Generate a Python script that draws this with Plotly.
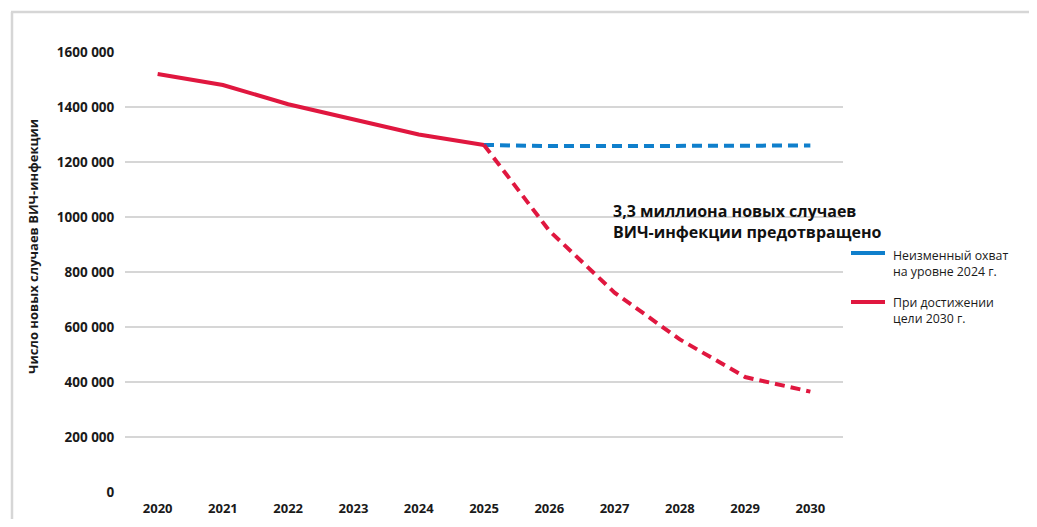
import plotly.graph_objects as go

years = ["2020", "2021", "2022", "2023", "2024", "2025", "2026", "2027", "2028", "2029", "2030"]
history = [1520000, 1480000, 1410000, 1355000, 1300000, 1262000]
history_years = years[:6]
constant_years = years[5:]
constant_coverage = [1262000, 1258000, 1258000, 1258000, 1258000, 1260000]
target_years = years[5:]
target_2030 = [1262000, 950000, 725000, 555000, 418000, 365000]
y_ticks = [0, 200000, 400000, 600000, 800000, 1000000, 1200000, 1400000, 1600000]
y_tick_labels = ["0", "200 000", "400 000", "600 000", "800 000", "1000 000", "1200 000", "1400 000", "1600 000"]
legend_names = ["Неизменный охват<br>на уровне 2024 г.", "При достижении<br>цели 2030 г."]

BLUE = "#0f7fcc"
RED = "#e0173f"
FONT = "Open Sans"
TXT = "#1a1a1a"

OFF = 8  # page body margin offset
W, H = 1037 - OFF, 527 - 2 * OFF
# plot area in page pixels: x 125..843, y 52..492
L = 125 - OFF
T = 52 - OFF
R = W - (843 - OFF)
B = H - (492 - OFF)
PW, PH = W - L - R, H - T - B


def px(x):
    return (x - OFF - L) / PW


def py(y):
    return (H - B - (y - OFF)) / PH


fig = go.Figure()
fig.add_trace(go.Scatter(x=constant_years, y=constant_coverage, mode="lines",
                         line=dict(color=BLUE, width=4, dash="10px,6px"),
                         name=legend_names[0]))
fig.add_trace(go.Scatter(x=target_years, y=target_2030, mode="lines",
                         line=dict(color=RED, width=4, dash="10px,6px"),
                         name=legend_names[1]))
fig.add_trace(go.Scatter(x=history_years, y=history, mode="lines",
                         line=dict(color=RED, width=4),
                         name=legend_names[1]))

fig.update_layout(
    width=W, height=H,
    margin=dict(l=L, r=R, t=T, b=B),
    paper_bgcolor="white", plot_bgcolor="white",
    font=dict(family=FONT, color=TXT, size=13),
    showlegend=False,
    xaxis=dict(type="category", categoryorder="array", categoryarray=years,
               range=[-0.5, 10.5], showgrid=False, showline=False, zeroline=False,
               ticks="outside", ticklen=4, tickcolor="rgba(0,0,0,0)", automargin=False,
               tickfont=dict(family=FONT, size=13, color=TXT, weight="bold")),
    yaxis=dict(range=[0, 1600000], tickvals=y_ticks, ticktext=y_tick_labels,
               showgrid=True, gridcolor="#d6d6d6", gridwidth=1.6, zeroline=False,
               showline=False, ticks="outside", ticklen=7, tickcolor="rgba(0,0,0,0)",
               automargin=False,
               tickfont=dict(family=FONT, size=13.5, color=TXT, weight="bold")),
)

# y-axis title
fig.add_annotation(xref="paper", yref="paper", x=px(33), y=py(247), xanchor="center", yanchor="middle",
                   text="<b>Число новых случаев ВИЧ-инфекции</b>", textangle=-90,
                   showarrow=False, font=dict(family=FONT, size=13, color=TXT))

# callout
fig.add_annotation(xref="paper", yref="paper", x=px(611), y=py(198), xanchor="left", yanchor="top",
                   text="<b>3,3 миллиона новых случаев<br>ВИЧ-инфекции предотвращено</b>",
                   showarrow=False, align="left",
                   font=dict(family=FONT, size=16, color="#111111"))

# custom legend
legend_items = [(BLUE, 253, 263.5), (RED, 302, 310)]
for (color, ly, ty), name in zip(legend_items, legend_names):
    fig.add_shape(type="line", xref="paper", yref="paper", x0=px(851), x1=px(885),
                  y0=py(ly), y1=py(ly), line=dict(color=color, width=4))
    fig.add_annotation(xref="paper", yref="paper", x=px(891), y=py(ty), xanchor="left", yanchor="middle",
                       text=name, showarrow=False, align="left",
                       font=dict(family=FONT, size=12.3, color=TXT))

# outer frame (left, top, right edges)
frame = dict(color="#d6d6d6", width=2.5)
fig.add_shape(type="line", xref="paper", yref="paper", x0=px(12), x1=px(12), y0=py(540), y1=py(12), line=frame)
fig.add_shape(type="line", xref="paper", yref="paper", x0=px(11), x1=px(1034), y0=py(12), y1=py(12), line=frame)
fig.add_shape(type="line", xref="paper", yref="paper", x0=px(1033), x1=px(1033), y0=py(540), y1=py(12), line=frame)

fig.write_html("out.html")
